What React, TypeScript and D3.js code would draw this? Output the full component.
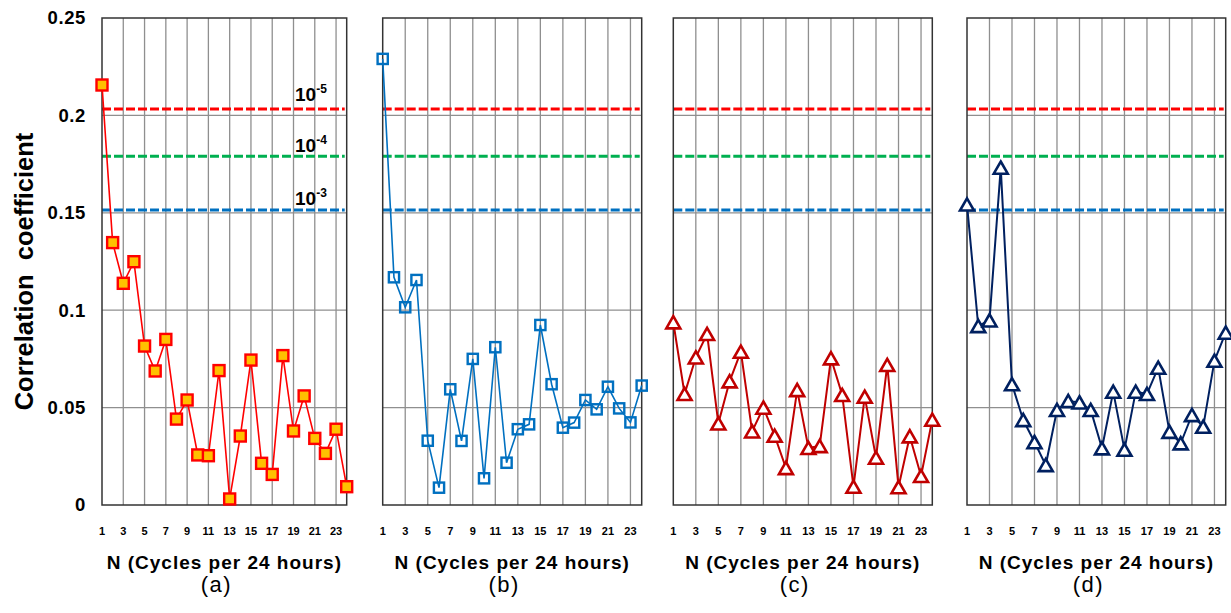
import React from "react";
import * as d3 from "d3";

// Cycles per 24 hours (x categories)
const cycles = [1, 2, 3, 4, 5, 6, 7, 8, 9, 10, 11, 12, 13, 14, 15, 16, 17, 18, 19, 20, 21, 22, 23, 24];
const xTicks = [1, 3, 5, 7, 9, 11, 13, 15, 17, 19, 21, 23];
const yTicks = [0, 0.05, 0.1, 0.15, 0.2, 0.25];
const yTickLabels = ["0", "0.05", "0.1", "0.15", "0.2", "0.25"];

// Correlation coefficients per panel
const seriesA = [0.2156, 0.1347, 0.1138, 0.1249, 0.0816, 0.0688, 0.085, 0.0441, 0.0539, 0.0257, 0.0253, 0.069, 0.0031, 0.0354, 0.0744, 0.0214, 0.0157, 0.0767, 0.038, 0.056, 0.0342, 0.0265, 0.0389, 0.0094];
const seriesB = [0.229, 0.1169, 0.1015, 0.1155, 0.033, 0.0089, 0.0594, 0.0329, 0.075, 0.0137, 0.081, 0.0217, 0.0389, 0.0414, 0.0924, 0.062, 0.0397, 0.0423, 0.0539, 0.0491, 0.0607, 0.0496, 0.0424, 0.0613];
const seriesC = [0.0938, 0.057, 0.0758, 0.0878, 0.0419, 0.0635, 0.0787, 0.0378, 0.05, 0.0356, 0.019, 0.059, 0.0293, 0.0303, 0.0753, 0.0565, 0.0094, 0.0556, 0.0243, 0.0719, 0.0092, 0.0353, 0.0149, 0.0438];
const seriesD = [0.1543, 0.0919, 0.0948, 0.1732, 0.062, 0.0436, 0.0323, 0.0205, 0.0488, 0.0534, 0.0527, 0.0488, 0.0291, 0.0582, 0.0284, 0.0582, 0.057, 0.0705, 0.0376, 0.0317, 0.0462, 0.0402, 0.0741, 0.0885];

// Significance thresholds (p-values)
const thresholdValues = [0.2033, 0.179, 0.1515];
const thresholdExponents = ["-5", "-4", "-3"];

const panelLetters = ["(a)", "(b)", "(c)", "(d)"];
const xTitle = "N (Cycles per 24 hours)";
const yTitle = "Correlation  coefficient";

const W = 1231;
const H = 613;
const TOP = 18;
const BOTTOM = 505;
const FONT = "'Liberation Sans', Arial, sans-serif";

const thresholdColors = ["#FF0000", "#00B050", "#0070C0"];

type Panel = {
  x0: number;
  x1: number;
  values: number[];
  marker: "squareFilled" | "square" | "triangle";
  line: string;
  stroke: string;
  fill: string;
  lineWidth: number;
};

const panels: Panel[] = [
  { x0: 102, x1: 346.7, values: seriesA, marker: "squareFilled", line: "#FF0000", stroke: "#FF0000", fill: "#FFC000", lineWidth: 1.6 },
  { x0: 382.7, x1: 641.7, values: seriesB, marker: "square", line: "#0070C0", stroke: "#0070C0", fill: "none", lineWidth: 1.6 },
  { x0: 673.3, x1: 932.3, values: seriesC, marker: "triangle", line: "#C00000", stroke: "#C00000", fill: "#FFFFFF", lineWidth: 2 },
  { x0: 967, x1: 1225.7, values: seriesD, marker: "triangle", line: "#002060", stroke: "#002060", fill: "#FFFFFF", lineWidth: 2 },
];

const y = d3.scaleLinear().domain([0, 0.25]).range([BOTTOM, TOP]);

function Marker({ m, cx, cy, p }: { m: Panel["marker"]; cx: number; cy: number; p: Panel }) {
  if (m === "triangle") {
    const hw = 7;
    const hh = 6.1;
    return (
      <path
        d={`M${cx},${cy - hh}L${cx + hw},${cy + hh}L${cx - hw},${cy + hh}Z`}
        fill={p.fill}
        stroke={p.stroke}
        strokeWidth={2.6}
        strokeLinejoin="miter"
      />
    );
  }
  const s = m === "squareFilled" ? 11 : 10.2;
  return (
    <rect
      x={cx - s / 2}
      y={cy - s / 2}
      width={s}
      height={s}
      fill={p.fill}
      stroke={p.stroke}
      strokeWidth={2.4}
    />
  );
}

function ChartPanel({ p, idx }: { p: Panel; idx: number }) {
  const x = d3.scaleLinear().domain([1, 24]).range([p.x0, p.x1]);
  const line = d3
    .line<number>()
    .x((_, i) => x(cycles[i]))
    .y((d) => y(d));
  const cx = (p.x0 + p.x1) / 2;
  return (
    <g>
      {/* horizontal gridlines */}
      {yTicks.slice(1, -1).map((t) => (
        <line key={"h" + t} x1={p.x0} x2={p.x1} y1={y(t)} y2={y(t)} stroke="#8F8F8F" strokeWidth={1.3} />
      ))}
      {/* vertical gridlines at odd cycles */}
      {xTicks.slice(1).map((t) => (
        <line key={"v" + t} x1={x(t)} x2={x(t)} y1={TOP} y2={BOTTOM} stroke="#8F8F8F" strokeWidth={1.3} />
      ))}
      {/* threshold lines */}
      {thresholdValues.map((v, i) => (
        <line
          key={"t" + i}
          x1={p.x0}
          x2={p.x1 - 2}
          y1={y(v)}
          y2={y(v)}
          stroke={thresholdColors[i]}
          strokeWidth={3}
          strokeDasharray="9,3"
        />
      ))}
      {/* frame */}
      <rect x={p.x0} y={TOP} width={p.x1 - p.x0} height={BOTTOM - TOP} fill="none" stroke="#333" strokeWidth={1.5} />
      {/* series */}
      <path d={line(p.values) || ""} fill="none" stroke={p.line} strokeWidth={p.lineWidth} />
      {p.values.map((v, i) => (
        <Marker key={"m" + i} m={p.marker} cx={x(cycles[i])} cy={y(v)} p={p} />
      ))}
      {/* x tick labels */}
      {xTicks.map((t) => (
        <text
          key={"xl" + t}
          x={x(t)}
          y={535}
          textAnchor="middle"
          fontFamily={FONT}
          fontWeight="bold"
          fontSize={11}
          fill="#000"
        >
          {t}
        </text>
      ))}
      <text
        x={cx}
        y={569}
        textAnchor="middle"
        fontFamily={FONT}
        fontWeight="bold"
        fontSize={19}
        letterSpacing={1}
        fill="#000"
      >
        {xTitle}
      </text>
      <text x={cx - 8} y={592} textAnchor="middle" fontFamily={FONT} fontSize={22} letterSpacing={1.5} fill="#000">
        {panelLetters[idx]}
      </text>
    </g>
  );
}

export default function App() {
  const thresholdBaselines = [101, 152, 205];
  return (
    <svg width={W} height={H} style={{ position: "absolute", left: 0, top: 0, background: "#fff" }}>
      <rect x={0} y={0} width={W} height={H} fill="#fff" />
      {panels.map((p, i) => (
        <ChartPanel key={i} p={p} idx={i} />
      ))}
      {/* y axis labels on the first panel */}
      {yTicks.map((t, i) => (
        <text
          key={"yl" + t}
          x={86}
          y={y(t)}
          dy="0.35em"
          textAnchor="end"
          fontFamily={FONT}
          fontWeight="bold"
          fontSize={18.5}
          letterSpacing={0.6}
          fill="#000"
        >
          {yTickLabels[i]}
        </text>
      ))}
      <text
        transform={`translate(33,${(TOP + BOTTOM) / 2 + 10}) rotate(-90)`}
        textAnchor="middle"
        fontFamily={FONT}
        fontWeight="bold"
        fontSize={25.5}
        style={{ whiteSpace: "pre" }}
        fill="#000"
      >
        {yTitle}
      </text>
      {/* threshold labels */}
      {thresholdExponents.map((e, i) => (
        <text key={"tl" + i} x={295} y={thresholdBaselines[i]} fontFamily={FONT} fontWeight="bold" fontSize={19} fill="#000">
          10
          <tspan fontSize={12} dy={-8}>
            {e}
          </tspan>
        </text>
      ))}
    </svg>
  );
}
